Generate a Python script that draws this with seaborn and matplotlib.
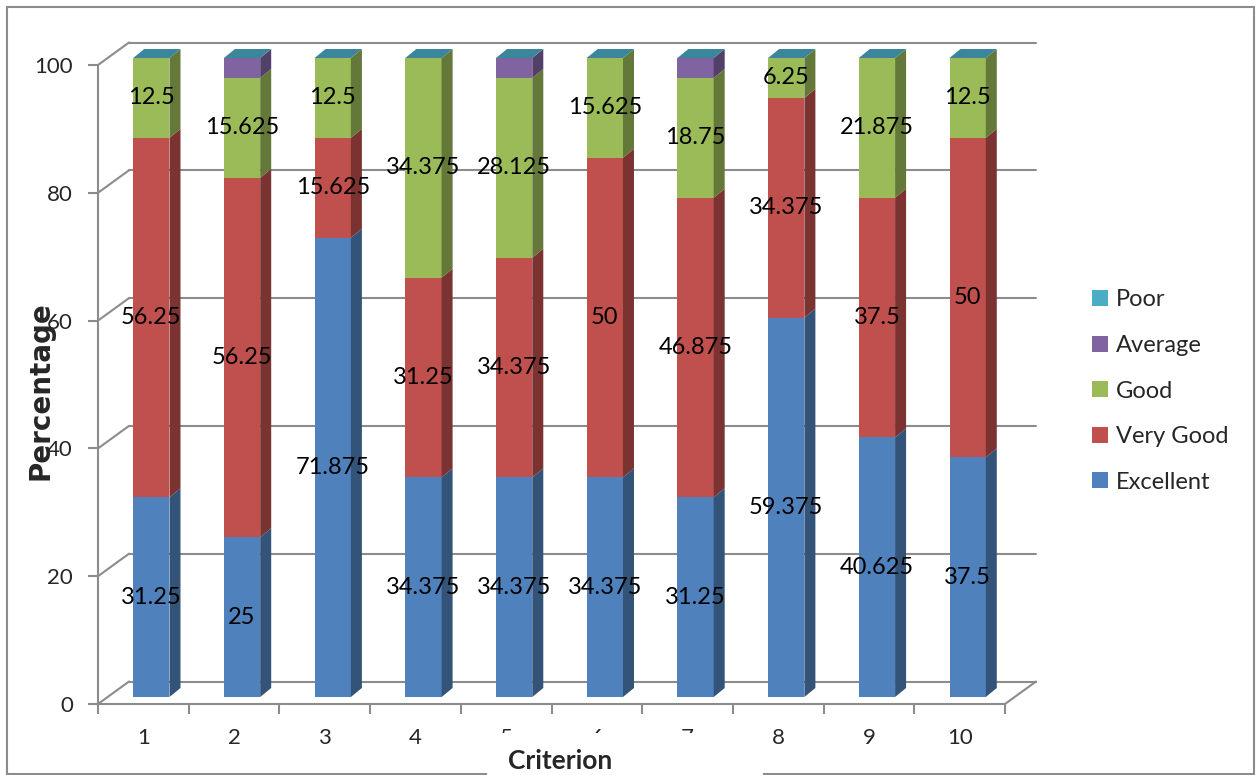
import numpy as np
import pandas as pd
import matplotlib
matplotlib.use("Agg")
import matplotlib.pyplot as plt
import seaborn as sns
from matplotlib.patches import Polygon, Rectangle
from matplotlib.colors import to_rgb

# ---------------- data ----------------
criteria = ["1", "2", "3", "4", "5", "6", "7", "8", "9", "10"]
excellent = [31.25, 25, 71.875, 34.375, 34.375, 34.375, 31.25, 59.375, 40.625, 37.5]
very_good = [56.25, 56.25, 15.625, 31.25, 34.375, 50, 46.875, 34.375, 37.5, 50]
good = [12.5, 15.625, 12.5, 34.375, 28.125, 15.625, 18.75, 6.25, 21.875, 12.5]
average = [0, 3.125, 0, 0, 3.125, 0, 3.125, 0, 0, 0]
poor = [0, 0, 0, 0, 0, 0, 0, 0, 0, 0]
series_names = ["Excellent", "Very Good", "Good", "Average", "Poor"]
labelled_series = ["Excellent", "Very Good", "Good"]
y_ticks = [0, 20, 40, 60, 80, 100]

colors = {"Excellent": "#4F81BD", "Very Good": "#C0504D", "Good": "#9BBB59",
          "Average": "#8064A2", "Poor": "#4BACC6"}

df = pd.DataFrame({"Criterion": criteria, "Excellent": excellent, "Very Good": very_good,
                   "Good": good, "Average": average, "Poor": poor})

sns.set_theme(style="white")
plt.rcParams["font.family"] = ["Lato", "DejaVu Sans"]

W, H = 1260, 775
fig = plt.figure(figsize=(12.6, 7.75), dpi=100)
fig.patch.set_facecolor("white")


def fx(px):
    return px / W


def fy(py):
    return 1 - py / H


GRAY = "#8C8C8C"
LW = 1.5

# ---------------- front / wall axes ----------------
x0p, x1p, y0p, y1p = 98, 1005, 704, 65
ax = fig.add_axes([fx(x0p), fy(y0p), (x1p - x0p) / W, (y0p - y1p) / H])
ax.set_xlim(-0.5, 9.5)
ax.set_ylim(0, 100)
ax.set_facecolor("none")
DX = 31 / ((x1p - x0p) / 10)
DY = 22.5 / ((y0p - y1p) / 100)
for v in y_ticks:
    ax.plot([-0.5, -0.5 + DX], [v, v + DY], color=GRAY, lw=LW, clip_on=False, zorder=1)
    ax.plot([-0.5 + DX, 9.5 + DX], [v + DY, v + DY], color=GRAY, lw=LW, clip_on=False, zorder=1)
ax.plot([9.5, 9.5 + DX], [0, DY], color=GRAY, lw=LW, clip_on=False, zorder=1)

for s in ["top", "right"]:
    ax.spines[s].set_visible(False)
for s in ["left", "bottom"]:
    ax.spines[s].set_color(GRAY)
    ax.spines[s].set_linewidth(LW)
ax.set_yticks(y_ticks)
ax.set_yticklabels([str(t) for t in y_ticks])
ax.set_xticks(range(len(criteria)))
ax.set_xticklabels(criteria)
ax.set_xticks(np.arange(-0.5, 10, 1), minor=True)
ax.tick_params(axis="y", which="major", direction="out", length=7, width=LW, color=GRAY,
               labelsize=16, pad=11, left=True)
ax.tick_params(axis="x", which="major", length=0, labelsize=16, pad=17, bottom=True)
ax.tick_params(axis="x", which="minor", direction="out", length=7, width=LW, color=GRAY, bottom=True)

# ---------------- bars axes (shifted to mid depth) ----------------
ax2 = fig.add_axes([fx(x0p + 8), fy(y0p - 7), (x1p - x0p) / W, (y0p - y1p) / H])
ax2.set_facecolor("none")

cum = {}
running = np.zeros(len(criteria))
bottoms = {}
for name in series_names:
    bottoms[name] = running.copy()
    running = running + np.array(df[name], dtype=float)
    cum[name] = running.copy()
df_cum = pd.DataFrame({"Criterion": criteria})
for name in series_names:
    df_cum[name] = cum[name]

containers = {}
for name in reversed(series_names):
    n_before = len(ax2.containers)
    sns.barplot(data=df_cum, x="Criterion", y=name, color=colors[name], saturation=1,
                width=0.4, linewidth=0, ax=ax2, label=name, zorder=3)
    containers[name] = ax2.containers[n_before]

ax2.set_xlim(-0.5, 9.5)
ax2.set_ylim(0, 100)
ax2.axis("off")
if ax2.get_legend() is not None:
    ax2.get_legend().remove()

SDX = 11 / ((x1p - x0p) / 10)
SDY = 9 / ((y0p - y1p) / 100)


def shade(c, f):
    r, g, b = to_rgb(c)
    return (r * f, g * f, b * f)


ref = containers["Poor"]
for i in range(len(criteria)):
    rect = ref[i]
    bx, bw = rect.get_x(), rect.get_width()
    for name in series_names:
        v = df[name][i]
        if v <= 0:
            continue
        b = bottoms[name][i]
        t = b + v
        side = Polygon([(bx + bw, b), (bx + bw + SDX, b + SDY), (bx + bw + SDX, t + SDY), (bx + bw, t)],
                       closed=True, facecolor=shade(colors[name], 0.64), edgecolor="none",
                       zorder=3, clip_on=False)
        ax2.add_patch(side)
    top = cum["Poor"][i]
    topface = Polygon([(bx, top), (bx + bw, top), (bx + bw + SDX, top + SDY), (bx + SDX, top + SDY)],
                      closed=True, facecolor=shade(colors["Poor"], 0.78), edgecolor="none",
                      zorder=3, clip_on=False)
    ax2.add_patch(topface)
    for name in labelled_series:
        v = df[name][i]
        if v <= 0:
            continue
        ax2.text(bx + bw / 2, bottoms[name][i] + v / 2, f"{v:g}", ha="center", va="center",
                 fontsize=17, color="black", zorder=5, clip_on=False)

handles, labels = ax2.get_legend_handles_labels()
fig.legend(handles, labels, loc="center left", bbox_to_anchor=(fx(1071), fy(391)),
           frameon=False, fontsize=17, handlelength=0.65, handleheight=0.65,
           labelspacing=1.04, handletextpad=0.35)

# axis titles
fig.text(fx(41), fy(391), "Percentage", rotation=90, ha="center", va="center",
         fontsize=20, fontweight="bold", family=["DejaVu Sans"], zorder=6)

# outer border
border = Rectangle((fx(7), fy(774)), fx(1254) - fx(7), fy(7) - fy(774), transform=fig.transFigure,
                   facecolor="none", edgecolor=GRAY, lw=1.5, zorder=4)
fig.patches.append(border)

box = Rectangle((fx(487), fy(776)), fx(763) - fx(487), fy(733) - fy(776), transform=fig.transFigure,
                facecolor="white", edgecolor="none", zorder=5)
fig.patches.append(box)
fig.text(fx(560), fy(761), "Criterion", ha="center", va="center", fontsize=19,
         fontweight="bold", zorder=6)

fig.savefig("out.png", dpi=100, facecolor="white")
